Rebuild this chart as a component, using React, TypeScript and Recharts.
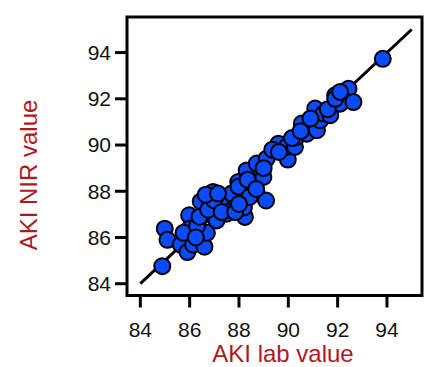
import React from 'react';
import { ScatterChart, Scatter, XAxis, YAxis, ReferenceArea, ReferenceLine } from 'recharts';

const labValues = [
  84.89, 84.99, 85.1, 85.64, 85.91, 85.98, 86.0, 86.14, 86.45, 86.6,
  86.7, 86.95, 86.8, 87.09, 87.22, 87.5, 87.63, 87.77, 87.97, 88.24,
  88.2, 88.31, 88.72, 89.1, 88.99, 88.72, 89.12, 89.6, 89.98, 89.93,
  90.27, 90.34, 90.55, 90.75, 91.09, 91.16, 91.29, 91.43, 91.7, 91.9,
  92.1, 92.44, 92.64, 93.83, 87.35, 87.7, 87.98, 88.35, 88.42, 88.7,
  89.35, 89.62, 90.15, 90.5, 90.9, 91.6, 91.9, 92.1, 85.75, 86.3,
  86.4, 86.75, 87.0, 87.3, 87.85, 88.0, 86.65, 87.15, 86.25, 89.0
];
const nirValues = [
  84.76, 86.38, 85.9, 85.69, 85.37, 86.96, 86.38, 85.69, 87.56, 85.6,
  86.2, 87.97, 87.32, 86.74, 87.61, 87.03, 87.32, 87.75, 88.4, 86.89,
  87.3, 88.9, 87.9, 87.6, 88.62, 89.2, 89.41, 90.06, 89.37, 89.92,
  89.92, 90.35, 90.93, 90.49, 91.58, 90.64, 91.07, 91.36, 91.29, 92.15,
  91.79, 92.44, 91.86, 93.73, 87.75, 87.9, 88.2, 88.5, 87.75, 88.1,
  89.8, 89.7, 90.3, 90.6, 91.15, 91.55, 92.0, 92.3, 86.2, 86.5,
  86.9, 87.2, 87.6, 87.1, 87.1, 87.45, 87.85, 87.9, 86.0, 89.0
];

const xTicks = [84, 86, 88, 90, 92, 94];
const yTicks = [84, 86, 88, 90, 92, 94];
const xDomain = [83.46, 95.42];
const yDomain = [83.49, 95.54];
const fitLine = [{ x: 84, y: 84 }, { x: 95, y: 95 }];

const data = labValues.map((x, i) => ({ x, y: nirValues[i] }));

const labelColor = '#b0181e';
const font = '"Liberation Sans", Arial, sans-serif';

const Dot = (props: any) => {
  const { cx, cy } = props;
  if (cx == null || cy == null) return null;
  return <circle cx={cx} cy={cy} r={8} fill="#0a4bff" stroke="#000" strokeWidth={2} />;
};

export default function App() {
  return (
    <div style={{ position: 'absolute', left: 0, top: 0, background: '#fff' }}>
      <ScatterChart
        width={424}
        height={367}
        margin={{ top: 17, right: 2, left: 0, bottom: 0 }}
      >
        <XAxis
          type="number"
          dataKey="x"
          domain={xDomain}
          ticks={xTicks}
          allowDataOverflow
          height={71.5}
          axisLine={false}
          tickSize={12}
          tickMargin={15}
          tickLine={{ stroke: '#000', strokeWidth: 3 }}
          tick={{ fill: '#111', fontSize: 21, fontFamily: font }}
          label={{
            content: () => (
              <text x={283} y={362} textAnchor="middle" fill={labelColor} fontSize={24} fontFamily={font}>
                AKI lab value
              </text>
            ),
          }}
        />
        <YAxis
          type="number"
          dataKey="y"
          domain={yDomain}
          ticks={yTicks}
          allowDataOverflow
          width={127}
          axisLine={false}
          tickSize={12}
          tickMargin={4}
          tickLine={{ stroke: '#000', strokeWidth: 3 }}
          tick={{ fill: '#111', fontSize: 21, fontFamily: font }}
          label={{
            content: () => (
              <text
                x={28.5}
                y={175}
                transform="rotate(-90, 28.5, 175)"
                textAnchor="middle"
                dominantBaseline="central"
                fill={labelColor}
                fontSize={24}
                fontFamily={font}
              >
                AKI NIR value
              </text>
            ),
          }}
        />
        <Scatter data={data} shape={Dot} isAnimationActive={false} />
        <ReferenceLine segment={fitLine} stroke="#000" strokeWidth={3} ifOverflow="visible" />
        <ReferenceArea
          x1={xDomain[0]}
          x2={xDomain[1]}
          y1={yDomain[0]}
          y2={yDomain[1]}
          fill="none"
          fillOpacity={0}
          stroke="#000"
          strokeWidth={3}
          ifOverflow="visible"
        />
      </ScatterChart>
    </div>
  );
}
